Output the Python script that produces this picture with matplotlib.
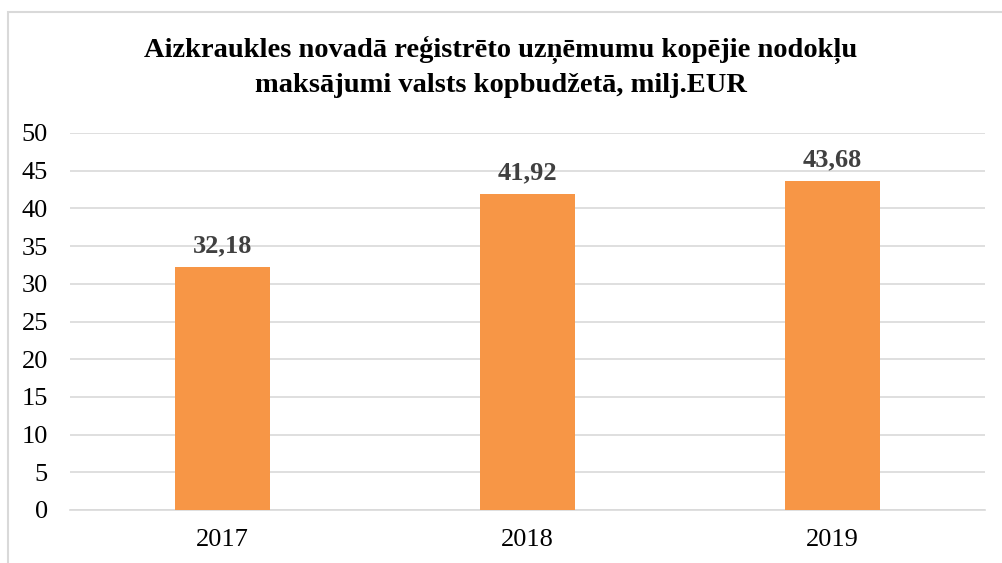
import matplotlib.pyplot as plt
from matplotlib.patches import Rectangle

years = ['2017', '2018', '2019']
values = [32.18, 41.92, 43.68]
value_labels = ['32,18', '41,92', '43,68']
yticks = [0, 5, 10, 15, 20, 25, 30, 35, 40, 45, 50]

plt.rcParams['font.family'] = ['Liberation Serif', 'DejaVu Serif']

W, H = 1002, 563
fig = plt.figure(figsize=(W / 100, H / 100), dpi=100)

# chart frame (cut off at right and bottom)
fig.patches.append(Rectangle((8 / W, -0.1), 1.2, 1 - 12 / H + 0.1,
                             transform=fig.transFigure, fill=False,
                             edgecolor='#D9D9D9', linewidth=1.5))

ax = fig.add_axes([70 / W, 1 - 510 / H, 915 / W, (510 - 133) / H])
x = range(len(years))
ax.bar(x, values, width=0.31, color='#F79646', zorder=3)
for i, v in enumerate(values):
    ax.text(i, v + 1.3, value_labels[i], ha='center', va='bottom',
            fontsize=19, fontweight='bold', color='#404040')

ax.set_ylim(0, 50)
ax.set_xlim(-0.5, 2.5)
ax.set_yticks(yticks)
ax.set_xticks(list(x))
ax.set_xticklabels(years)
ax.yaxis.grid(True, color='#D9D9D9', linewidth=1.2, zorder=0)
for s in ['top', 'right', 'left']:
    ax.spines[s].set_visible(False)
ax.spines['bottom'].set_color('#D9D9D9')
ax.spines['bottom'].set_linewidth(1.2)
ax.tick_params(axis='both', length=0, labelsize=19, colors='black')
ax.tick_params(axis='y', pad=16)
ax.tick_params(axis='x', pad=14)

fig.text(0.5, 1 - 50 / H, 'Aizkraukles novadā reģistrēto uzņēmumu kopējie nodokļu',
         ha='center', va='center', fontsize=20.5, fontweight='bold')
fig.text(0.5, 1 - 85 / H, 'maksājumi valsts kopbudžetā, milj.EUR',
         ha='center', va='center', fontsize=20.5, fontweight='bold')

fig.savefig('out.png', dpi=100)
